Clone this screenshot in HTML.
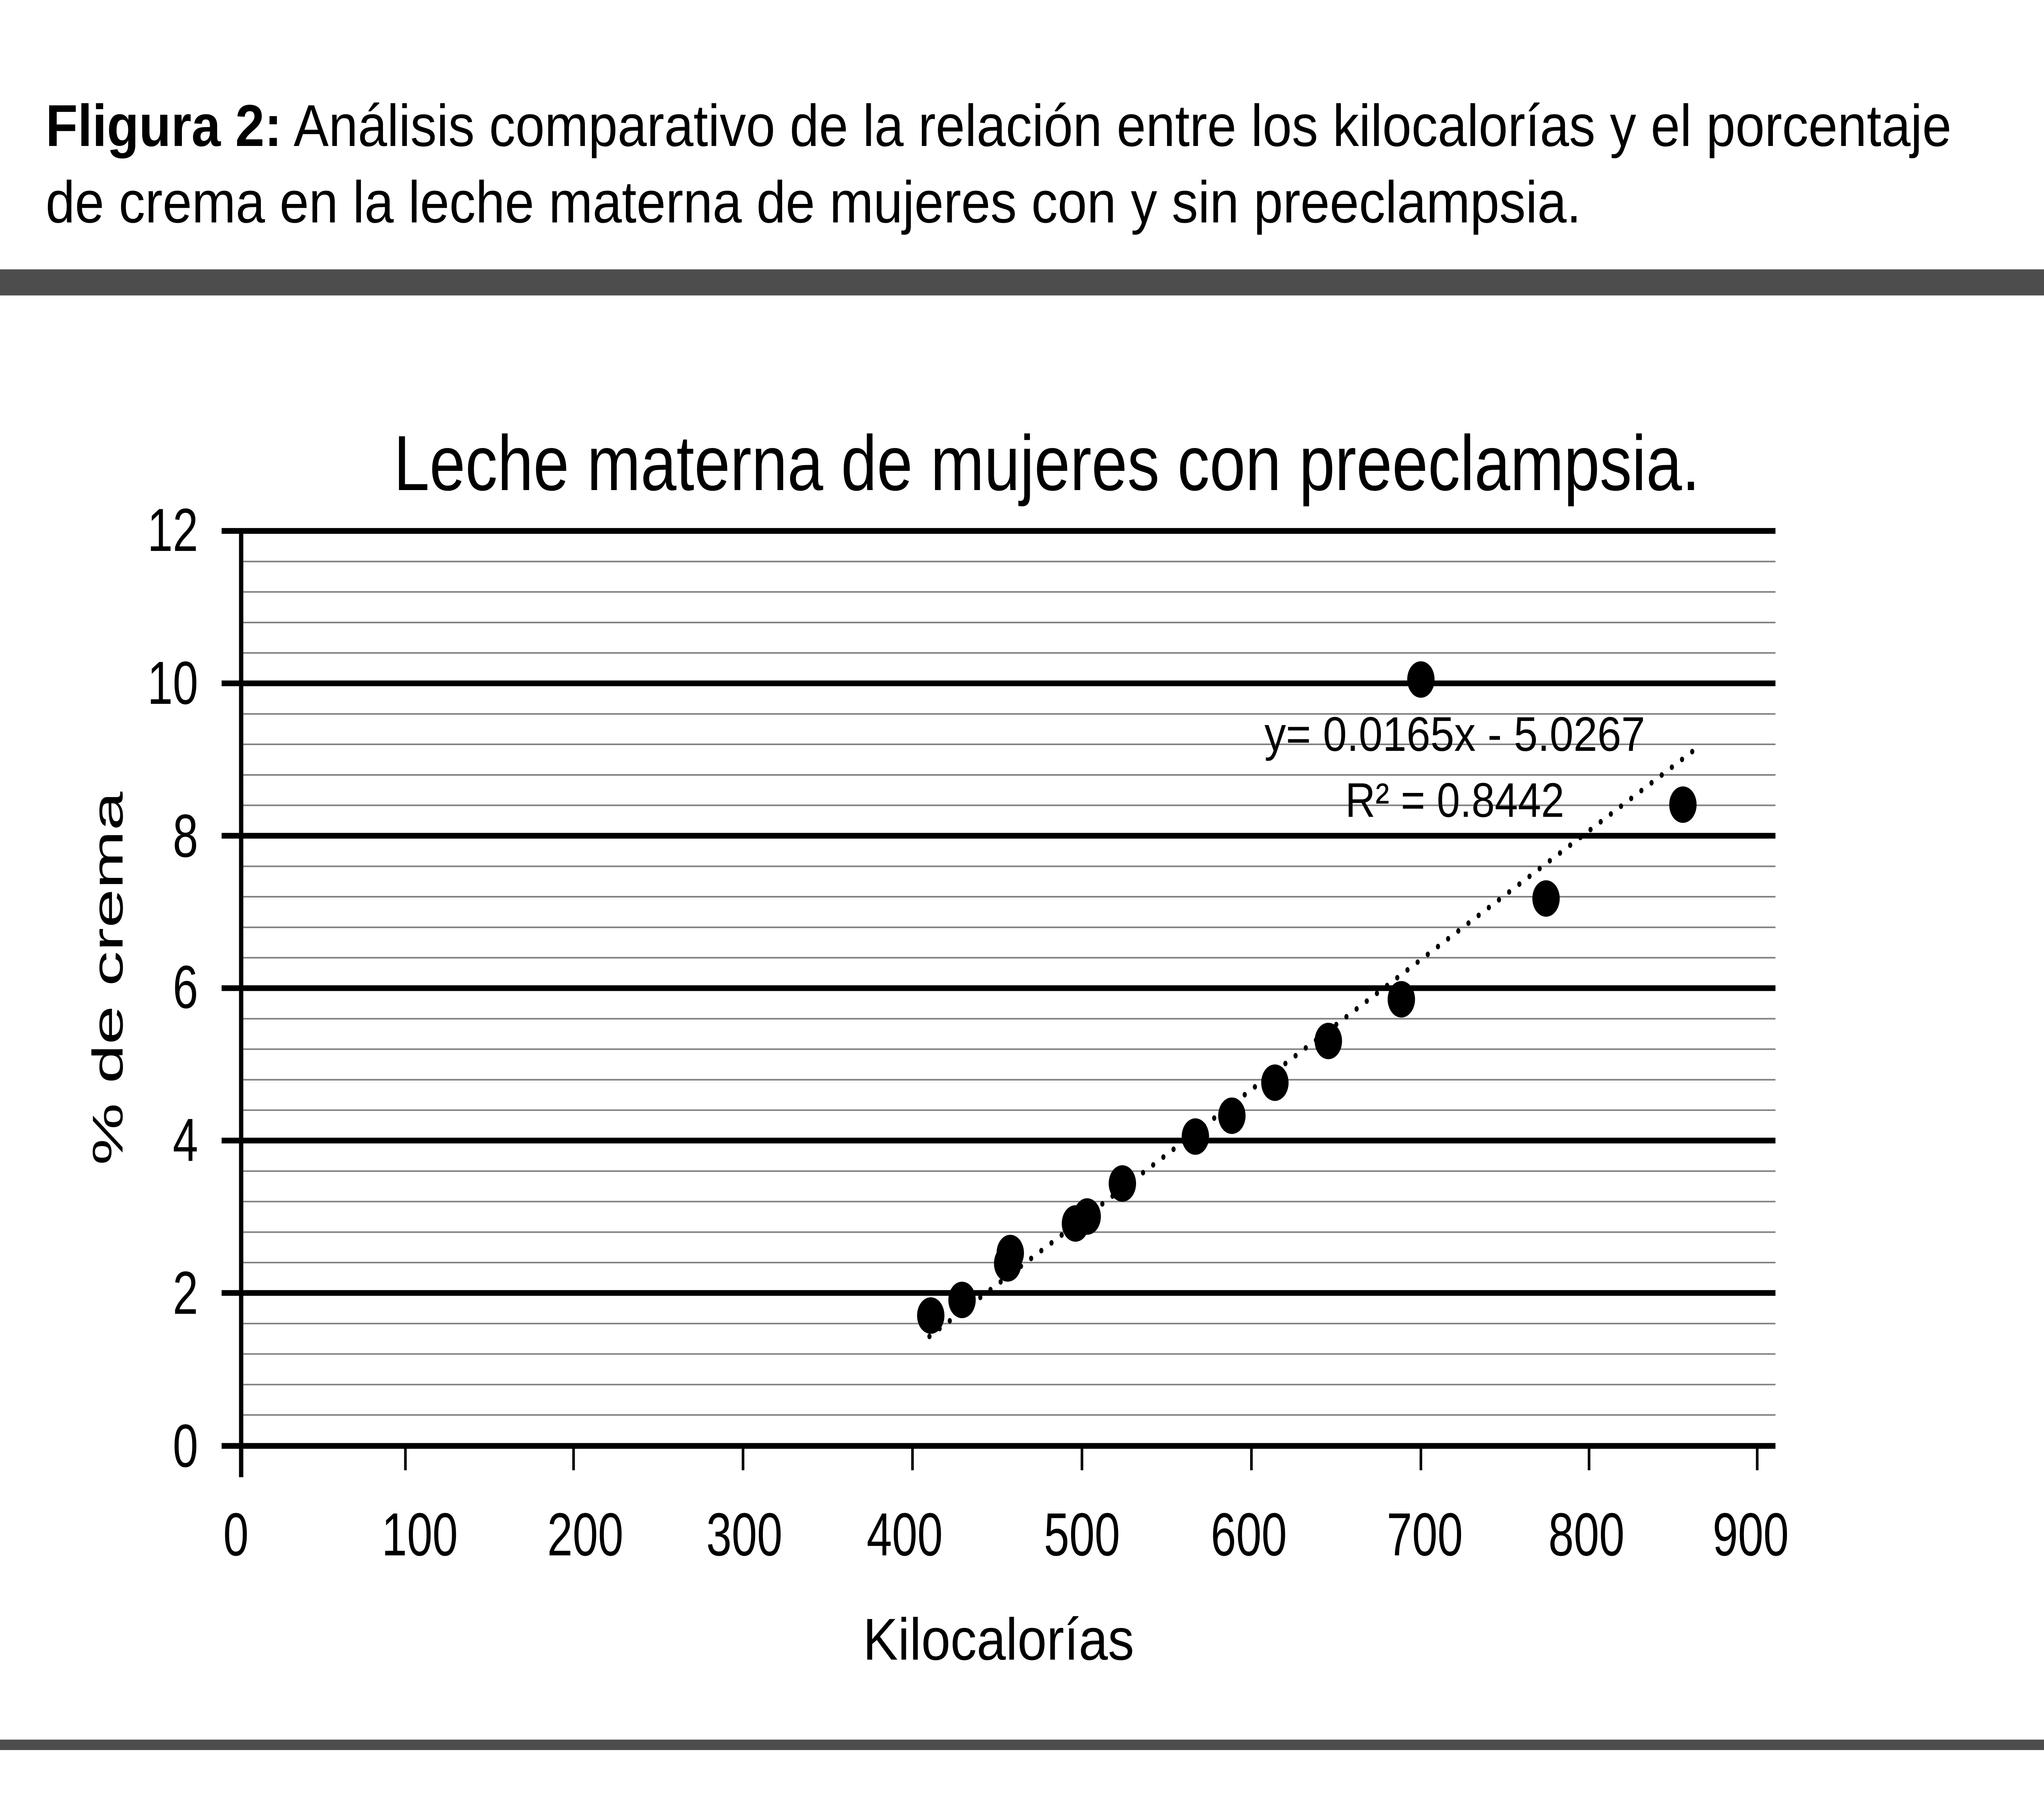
<!DOCTYPE html>
<html><head><meta charset="utf-8"><style>html,body{margin:0;padding:0;background:#fff;overflow:hidden;width:100%;height:100%}svg{display:block;position:fixed;left:0;top:0;width:100vw;height:100vh}</style></head>
<body>
<svg viewBox="0 0 1568 1034.6" preserveAspectRatio="none" xmlns="http://www.w3.org/2000/svg" font-family="Liberation Sans, sans-serif">
<rect width="1568" height="1034.6" fill="#fff"/>
<text x="35" y="84" font-size="34" textLength="1462" lengthAdjust="spacingAndGlyphs"><tspan font-weight="bold">Fligura 2:</tspan> Análisis comparativo de la relación entre los kilocalorías y el porcentaje</text>
<text x="35" y="128" font-size="34" textLength="1178" lengthAdjust="spacingAndGlyphs">de crema en la leche materna de mujeres con y sin preeclampsia.</text>
<rect x="0" y="155" width="1568" height="15" fill="#4d4d4d"/>
<rect x="0" y="1001" width="1568" height="6" fill="#4d4d4d"/>
<text x="302" y="282" font-size="45" textLength="1002" lengthAdjust="spacingAndGlyphs">Leche materna de mujeres con preeclampsia.</text>
<g stroke="#808080" stroke-width="0.9">
<line x1="185" x2="1362" y1="323.1" y2="323.1"/><line x1="185" x2="1362" y1="340.6" y2="340.6"/><line x1="185" x2="1362" y1="358.2" y2="358.2"/><line x1="185" x2="1362" y1="375.7" y2="375.7"/>
<line x1="185" x2="1362" y1="410.8" y2="410.8"/><line x1="185" x2="1362" y1="428.3" y2="428.3"/><line x1="185" x2="1362" y1="445.9" y2="445.9"/><line x1="185" x2="1362" y1="463.4" y2="463.4"/>
<line x1="185" x2="1362" y1="498.5" y2="498.5"/><line x1="185" x2="1362" y1="516" y2="516"/><line x1="185" x2="1362" y1="533.6" y2="533.6"/><line x1="185" x2="1362" y1="551.1" y2="551.1"/>
<line x1="185" x2="1362" y1="586.2" y2="586.2"/><line x1="185" x2="1362" y1="603.7" y2="603.7"/><line x1="185" x2="1362" y1="621.3" y2="621.3"/><line x1="185" x2="1362" y1="638.8" y2="638.8"/>
<line x1="185" x2="1362" y1="673.9" y2="673.9"/><line x1="185" x2="1362" y1="691.4" y2="691.4"/><line x1="185" x2="1362" y1="709" y2="709"/><line x1="185" x2="1362" y1="726.5" y2="726.5"/>
<line x1="185" x2="1362" y1="761.6" y2="761.6"/><line x1="185" x2="1362" y1="779.1" y2="779.1"/><line x1="185" x2="1362" y1="796.7" y2="796.7"/><line x1="185" x2="1362" y1="814.2" y2="814.2"/>
</g>
<g stroke="#000" stroke-width="3.3">
<line x1="170" x2="1362" y1="305.5" y2="305.5"/><line x1="170" x2="1362" y1="393.2" y2="393.2"/><line x1="170" x2="1362" y1="480.9" y2="480.9"/><line x1="170" x2="1362" y1="568.6" y2="568.6"/><line x1="170" x2="1362" y1="656.3" y2="656.3"/><line x1="170" x2="1362" y1="744" y2="744"/><line x1="170" x2="1362" y1="832" y2="832"/>
<line x1="185" x2="185" y1="305.5" y2="850"/>
</g>
<g stroke="#000" stroke-width="2">
<line x1="311" x2="311" y1="832" y2="846"/><line x1="440" x2="440" y1="832" y2="846"/><line x1="570" x2="570" y1="832" y2="846"/><line x1="700" x2="700" y1="832" y2="846"/><line x1="830" x2="830" y1="832" y2="846"/><line x1="960" x2="960" y1="832" y2="846"/><line x1="1090" x2="1090" y1="832" y2="846"/><line x1="1219" x2="1219" y1="832" y2="846"/><line x1="1348" x2="1348" y1="832" y2="846"/>
</g>
<g font-size="35" text-anchor="end">
<text x="152" y="317">12</text><text x="152" y="405">10</text><text x="152" y="493">8</text><text x="152" y="580">6</text><text x="152" y="668">4</text><text x="152" y="756">2</text><text x="152" y="844">0</text>
</g>
<g font-size="35" text-anchor="middle">
<text x="181" y="895">0</text><text x="322" y="895">100</text><text x="449" y="895">200</text><text x="571" y="895">300</text><text x="694" y="895">400</text><text x="830" y="895">500</text><text x="958" y="895">600</text><text x="1093" y="895">700</text><text x="1217" y="895">800</text><text x="1343" y="895">900</text>
</g>
<text x="766" y="955" font-size="34" text-anchor="middle" textLength="208" lengthAdjust="spacingAndGlyphs">Kilocalorías</text>
<text transform="translate(94,563) rotate(-90)" font-size="33" text-anchor="middle" textLength="215" lengthAdjust="spacingAndGlyphs">% de crema</text>
<line x1="713" y1="769" x2="1299" y2="432" stroke="#000" stroke-width="3.2" stroke-linecap="round" stroke-dasharray="0 9"/>
<g fill="#000">
<circle cx="714" cy="757" r="10.5"/><circle cx="738" cy="748" r="10.5"/><circle cx="773" cy="727" r="10.5"/><circle cx="775" cy="721" r="10.5"/><circle cx="825" cy="704" r="10.5"/><circle cx="834" cy="700" r="10.5"/><circle cx="861" cy="681" r="10.5"/><circle cx="917" cy="654" r="10.5"/><circle cx="945" cy="642" r="10.5"/><circle cx="978" cy="623" r="10.5"/><circle cx="1019" cy="599" r="10.5"/><circle cx="1075" cy="575" r="10.5"/><circle cx="1186" cy="517" r="10.5"/><circle cx="1291" cy="463" r="10.5"/><circle cx="1090" cy="391" r="10.5"/>
</g>
<text x="970" y="432" font-size="28" textLength="292" lengthAdjust="spacingAndGlyphs">y= 0.0165x - 5.0267</text>
<text x="1032" y="470" font-size="28" textLength="168" lengthAdjust="spacingAndGlyphs">R² = 0.8442</text>
</svg>
</body></html>
